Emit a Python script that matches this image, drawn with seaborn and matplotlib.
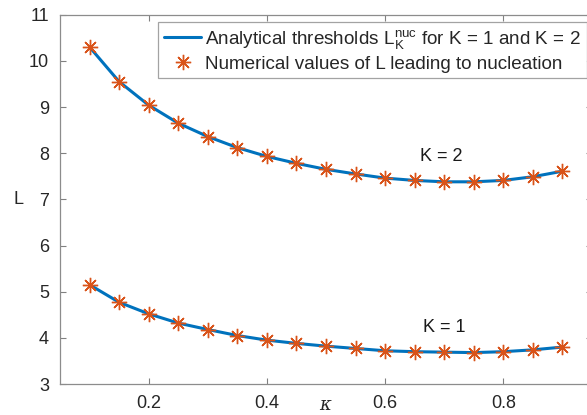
import numpy as np
import pandas as pd
import matplotlib
matplotlib.use('Agg')
import matplotlib.pyplot as plt
import seaborn as sns

# data
kappa = [0.10, 0.15, 0.20, 0.25, 0.30, 0.35, 0.40, 0.45, 0.50,
         0.55, 0.60, 0.65, 0.70, 0.75, 0.80, 0.85, 0.90]
L_k1 = [5.15, 4.77, 4.52, 4.32, 4.18, 4.05, 3.95, 3.88, 3.82,
        3.77, 3.72, 3.70, 3.69, 3.68, 3.70, 3.74, 3.80]
L_k2 = [10.30, 9.55, 9.04, 8.65, 8.36, 8.12, 7.93, 7.78, 7.65,
        7.55, 7.46, 7.41, 7.38, 7.38, 7.41, 7.49, 7.61]
x_ticks = [0.2, 0.4, 0.6, 0.8]
y_ticks = [3, 4, 5, 6, 7, 8, 9, 10, 11]
k_labels = ['K = 1', 'K = 2']
k_label_pos = [(0.70, 4.22), (0.695, 7.92)]

blue = '#0072BD'
orange = '#D95319'

sns.set_theme(style='white')
plt.rcParams['font.family'] = ['Liberation Sans', 'DejaVu Sans']
plt.rcParams['mathtext.fontset'] = 'custom'
plt.rcParams['mathtext.rm'] = 'Liberation Sans'
plt.rcParams['mathtext.it'] = 'DejaVu Serif:italic'

FS = 13

df = pd.DataFrame({'kappa': kappa * 2, 'L': L_k1 + L_k2,
                   'K': [1] * len(kappa) + [2] * len(kappa)})

fig = plt.figure(figsize=(5.87, 4.15), dpi=100)
W, H = 587, 415
ax = fig.add_axes([60 / W, 31 / H, 532 / W, 369.3 / H])

for i, k in enumerate([1, 2]):
    sub = df[df['K'] == k]
    sns.lineplot(data=sub, x='kappa', y='L', ax=ax, color=blue, linewidth=2.2,
                 label=r'Analytical thresholds $\mathrm{L}_{\mathrm{K}}^{\mathrm{nuc}}$ for K = 1 and K = 2' if i == 0 else None)
    sns.lineplot(data=sub, x='kappa', y='L', ax=ax, color=orange, linestyle='none',
                 marker=(8, 2, 0), markersize=11, markeredgewidth=1.0,
                 markeredgecolor=orange,
                 label='Numerical values of L leading to nucleation' if i == 0 else None)

for txt, (xx, yy) in zip(k_labels, k_label_pos):
    ax.text(xx, yy, txt, ha='center', va='center', fontsize=FS, color='#1a1a1a')

ax.set_xlim(0.05, 0.95)
ax.set_ylim(3, 11)
ax.set_xticks(x_ticks)
ax.set_xticklabels(['0.2', '0.4', '0.6', '0.8'])
ax.set_yticks(y_ticks)
ax.tick_params(direction='in', length=4, width=0.8, colors='#808080',
               labelcolor='#262626', labelsize=FS, top=True, right=True,
               bottom=True, left=True, pad=8)
for s in ax.spines.values():
    s.set_color('#8c8c8c')
    s.set_linewidth(0.9)

ax.set_xlabel(r'$\kappa$', fontsize=FS, color='#262626', va='center')
ax.xaxis.set_label_coords((0.5 - 0.05) / 0.9, -0.058)
ax.set_ylabel('L', fontsize=FS, rotation=0, va='center', color='#262626')
ax.yaxis.set_label_coords(-0.078, 0.5)

handles, labels = ax.get_legend_handles_labels()
leg = ax.legend(handles, labels, loc='upper left',
                bbox_to_anchor=(158 / W, 1 - 22 / H), bbox_transform=fig.transFigure,
                borderaxespad=0, fontsize=13.6, frameon=True, fancybox=False,
                handlelength=2.0, handletextpad=0.2, borderpad=0.3,
                labelspacing=0.25)
leg.get_frame().set_edgecolor('#8c8c8c')
leg.get_frame().set_linewidth(0.9)

fig.savefig('out.png', dpi=100)
